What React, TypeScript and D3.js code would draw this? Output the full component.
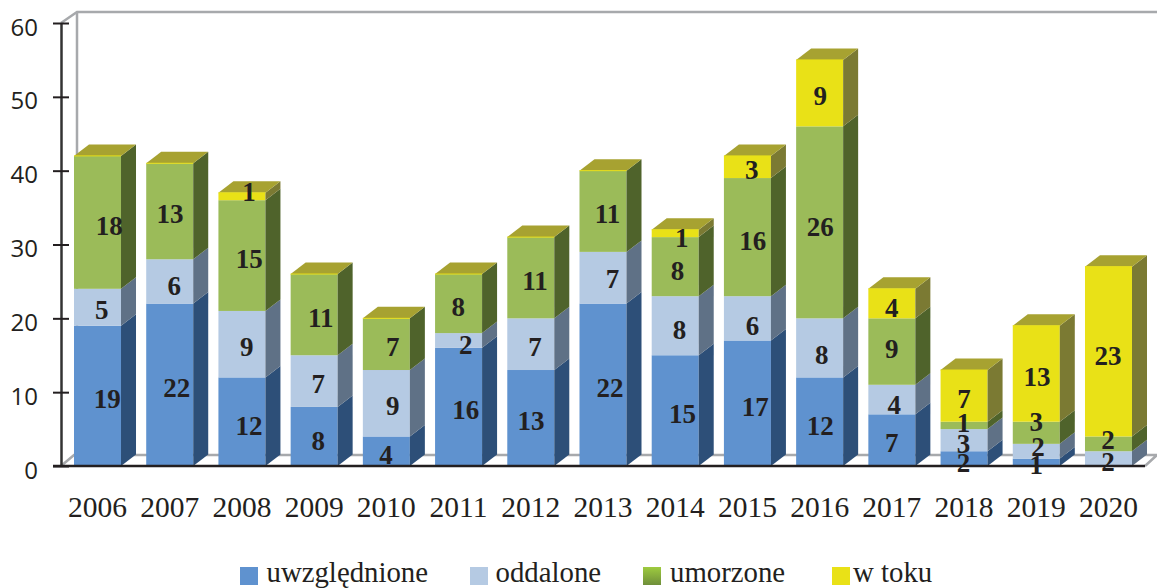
import React, { useRef, useEffect } from 'react';
import * as d3 from 'd3';

const years = ['2006', '2007', '2008', '2009', '2010', '2011', '2012', '2013', '2014', '2015', '2016', '2017', '2018', '2019', '2020'];
const uwzglednione = [19, 22, 12, 8, 4, 16, 13, 22, 15, 17, 12, 7, 2, 1, 0];
const oddalone = [5, 6, 9, 7, 9, 2, 7, 7, 8, 6, 8, 4, 3, 2, 2];
const umorzone = [18, 13, 15, 11, 7, 8, 11, 11, 8, 16, 26, 9, 1, 3, 2];
const wToku = [0, 0, 1, 0, 0, 0, 0, 0, 1, 3, 9, 4, 7, 13, 23];
const seriesNames = ['uwzględnione', 'oddalone', 'umorzone', 'w toku'];
const yTicks = [0, 10, 20, 30, 40, 50, 60];

const frontColors = ['#5f92cf', '#b5cae3', '#9bbb59', '#e9e117'];
const sideColors = ['#2d4f78', '#5f7186', '#4f632b', '#7b7a33'];
const topColor = '#a7a231';
const legendX = [240, 470, 643, 832];
const legendTextX = [26.5, 25.5, 27, 21];

// the labels in the picture sit off-centre by hand: shift from bar centre / segment centre, per series
const labelDx = [
  [9.8, 7, 7.1, 4.2, -0.3, 7.2, 0.3, 7.1, 7.2, 7.7, 0.5, 0, -0.6, 0, 0],
  [4.2, 4.6, 4.8, 4.2, 6.4, 7.2, 4.3, 9.4, 4.2, 5, 2.2, 2.3, -0.6, 1.6, -0.6],
  [11.8, 0.3, 7.4, 6.6, 6.4, -0.2, 4.3, 4.4, 2.2, 5.4, 0.5, 0, -0.6, 0, -0.6],
  [0, 0, 7.1, 0, 0, 0, 0, 0, 6.6, 4.4, 0.5, 0, 0, 0.6, -0.6],
];
const labelDy = [
  [3.4, 3.5, 4, 4.2, 3.8, 3.1, 3, 3.5, 3.7, 3.5, 4, 3.1, 4.1, 2.7, 0],
  [2.7, 4.6, 2.5, 3.2, 2.8, 4.5, 3.1, 1.3, 4.3, 7.4, 7.1, 5.4, 3.8, -3.9, 3.1],
  [3.6, 3, 3.7, 3.7, 3.1, 3.1, 3.3, 2.7, 4.3, 3.6, 4.3, -2.3, -2.1, -11.1, -3.9],
  [0, 0, -4.2, 0, 0, 0, 0, 0, 4.3, 3, 2.8, 4.1, 3.4, 3.6, 4.1],
];

const width = 1157;
const height = 588;
const depthX = 15;
const depthY = 11.5;
const serif = '"Liberation Serif", serif';
const sans = '"Open Sans", sans-serif';

const App = () => {
  const svgRef = useRef<SVGSVGElement>(null);

  useEffect(() => {
    const svg = d3.select(svgRef.current);
    svg.selectAll('*').remove();

    const grad = svg.append('defs').append('linearGradient')
      .attr('id', 'greenSwatch').attr('x1', 0).attr('x2', 0).attr('y1', 0).attr('y2', 1);
    grad.append('stop').attr('offset', 0).attr('stop-color', '#9ecb3f');
    grad.append('stop').attr('offset', 1).attr('stop-color', '#6f8f3a');

    const rows = years.map((year, i) => ({
      year,
      a: uwzglednione[i],
      b: oddalone[i],
      c: umorzone[i],
      d: wToku[i],
    }));
    const stacked = d3.stack<any>().keys(['a', 'b', 'c', 'd'])(rows);

    const x = d3.scaleBand().domain(years).range([74, 1132]).paddingInner(0.349).paddingOuter(0);
    const y = d3.scaleLinear().domain([0, 60]).range([466, 23]);

    // back wall and floor
    const wall = d3.line()([
      [61, y(60)],
      [61 + 16, y(60) - 11],
      [width, y(60) - 11],
    ]);
    svg.append('path').attr('d', wall).attr('fill', 'none').attr('stroke', '#a7a9ac').attr('stroke-width', 2.5);
    svg.append('line').attr('x1', 77).attr('x2', 77).attr('y1', y(60) - 11).attr('y2', y(0) - 11)
      .attr('stroke', '#a7a9ac').attr('stroke-width', 2.5);
    const floor = d3.line()([
      [61, y(0)],
      [74, y(0) - 11],
      [1157, y(0) - 11],
      [1145, y(0)],
    ]);
    svg.append('path').attr('d', floor).attr('fill', 'none').attr('stroke', '#a7a9ac').attr('stroke-width', 2.5);

    // bars, one column at a time so that the depth faces overlap correctly
    const bw = x.bandwidth();
    years.forEach((year, i) => {
      const g = svg.append('g');
      const x0 = x(year) as number;
      stacked.forEach((layer, k) => {
        const [lo, hi] = layer[i];
        if (hi === lo) return;
        g.append('rect')
          .attr('x', x0).attr('y', y(hi)).attr('width', bw).attr('height', y(lo) - y(hi))
          .attr('fill', frontColors[k]);
        g.append('path')
          .attr('d', d3.line()([
            [x0 + bw, y(hi)],
            [x0 + bw + depthX, y(hi) - depthY],
            [x0 + bw + depthX, y(lo) - depthY],
            [x0 + bw, y(lo)],
          ]) + 'Z')
          .attr('fill', sideColors[k]);
      });
      const total = stacked[3][i][1];
      g.append('path')
        .attr('d', d3.line()([
          [x0, y(total)],
          [x0 + depthX, y(total) - depthY],
          [x0 + bw + depthX, y(total) - depthY],
          [x0 + bw, y(total)],
        ]) + 'Z')
        .attr('fill', topColor);
      g.append('line')
        .attr('x1', x0).attr('x2', x0 + bw).attr('y1', y(total)).attr('y2', y(total))
        .attr('stroke', frontColors[3]).attr('stroke-width', 1);
    });

    // value axis
    const yAxis = d3.axisLeft(y).tickValues(yTicks).tickSize(0).tickPadding(23);
    const yG = svg.append('g').attr('transform', 'translate(61,0)').call(yAxis);
    yG.select('.domain').attr('stroke', '#333').attr('stroke-width', 2.5);
    yG.selectAll('text').attr('font-family', sans).attr('font-size', 24).attr('fill', '#231f20').attr('dy', '0.5em');
    yG.selectAll('.tick').append('line').attr('x1', -8).attr('x2', 8).attr('stroke', '#231f20').attr('stroke-width', 2);

    svg.append('line').attr('x1', 53).attr('x2', 1145).attr('y1', y(0)).attr('y2', y(0))
      .attr('stroke', '#231f20').attr('stroke-width', 2.5);

    // year labels
    svg.append('g').selectAll('text').data(years).join('text')
      .attr('x', d => (x(d) as number) + bw / 2)
      .attr('y', 517)
      .attr('text-anchor', 'middle')
      .attr('font-family', serif).attr('font-size', 29.5).attr('fill', '#231f20')
      .text(d => d);

    // value labels
    const labels = svg.append('g').attr('font-family', serif).attr('font-size', 27)
      .attr('font-weight', 'bold').attr('fill', '#231f20').attr('text-anchor', 'middle');
    stacked.forEach((layer, k) => {
      layer.forEach((seg, i) => {
        const value = seg[1] - seg[0];
        if (!value) return;
        labels.append('text')
          .attr('x', (x(years[i]) as number) + bw / 2 + labelDx[k][i])
          .attr('y', y((seg[0] + seg[1]) / 2) + labelDy[k][i] + 9)
          .text(value);
      });
    });

    // legend
    const legend = svg.append('g').selectAll('g').data(seriesNames).join('g')
      .attr('transform', (d, i) => `translate(${legendX[i]},567)`);
    legend.append('rect').attr('width', 18).attr('height', 18)
      .attr('fill', (d, i) => (i === 2 ? 'url(#greenSwatch)' : frontColors[i]));
    legend.append('text').attr('x', (d, i) => legendTextX[i]).attr('y', 14.5)
      .attr('font-family', serif).attr('font-size', 28.8).attr('fill', '#231f20')
      .text(d => d);
  }, []);

  return (
    <svg ref={svgRef} width={width} height={height} style={{ position: 'absolute', left: 0, top: 0, background: '#fff' }} />
  );
};

export default App;
